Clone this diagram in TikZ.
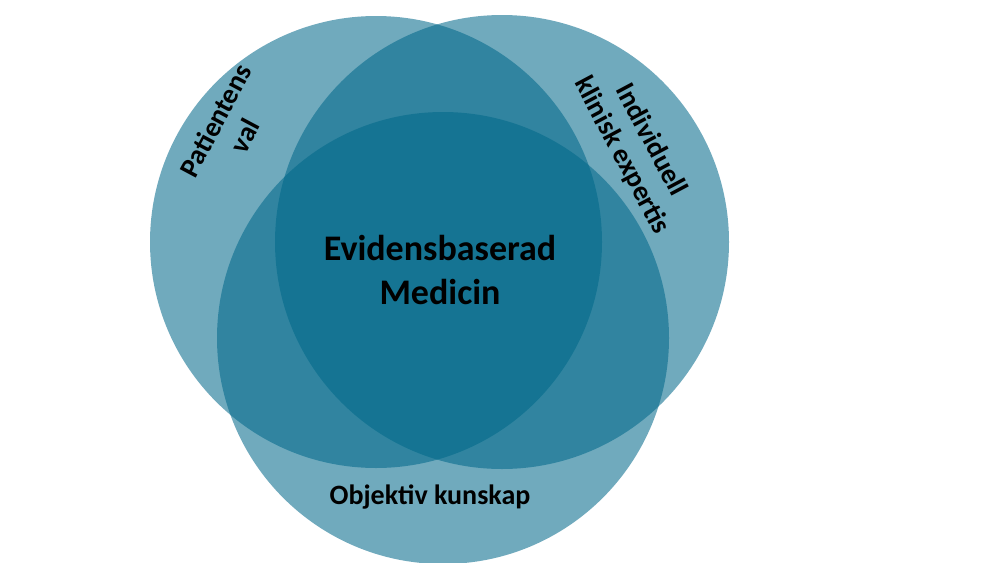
\documentclass[tikz,border=0pt]{standalone}
\usepackage{fontspec}
\setmainfont{Carlito}
\begin{document}
\begin{tikzpicture}[x=1pt,y=-1pt,
  circ/.style={fill={rgb,255:red,0;green,104;blue,138},fill opacity=0.56,draw=none},
  lbl/.style={font=\bfseries\fontsize{28}{33}\selectfont,align=center,text=black}]
\useasboundingbox (0,0) rectangle (1000,562);
\fill[white] (0,0) rectangle (1000,562);
\path[circ] (376,242) circle (226);
\path[circ] (502,242) circle (227);
\path[circ] (443,338) circle (226);
\node[lbl,font=\bfseries\fontsize{36}{44}\selectfont] (ebm) at (440,270) {Evidensbaserad\\Medicin};
\node[lbl,rotate=62] (pv) at (230,128) {Patientens\\val};
\node[lbl,rotate=-62] (ike) at (636,148) {Individuell\\klinisk expertis};
\node[lbl] (ok) at (430,497) {Objektiv kunskap};
\end{tikzpicture}
\end{document}
